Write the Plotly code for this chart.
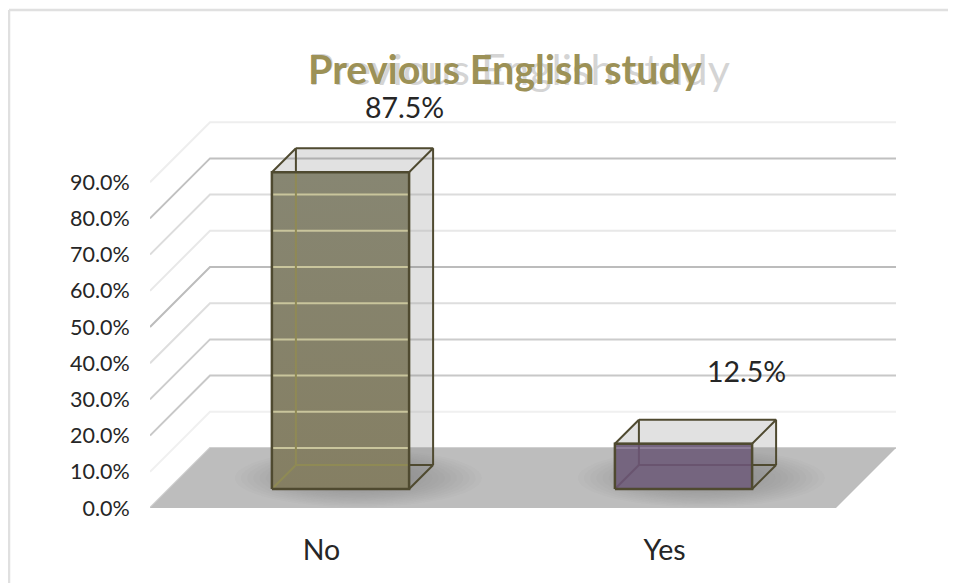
"""Previous English study: 3D-look column chart drawn on plain cartesian axes."""

import numpy as np
import plotly.graph_objects as go

categories = ["No", "Yes"]
values = [0.875, 0.125]
tick_values = [0.0, 0.1, 0.2, 0.3, 0.4, 0.5, 0.6, 0.7, 0.8, 0.9]
title_text = "Previous English study"

# pixel scale of the axes
PX_X = 343.0
PX_Y = 362.0
# the page body has an 8px margin, so the figure starts at (8, 8)
OFF = 8
LEFT, RIGHT, TOP, BOTTOM = 150 - OFF, 897 - OFF, 100 - OFF, 508 - OFF
W, H = 956, 583 - OFF

# oblique depth of the chart box and of the columns
DEPTH_X = 60 / PX_X
DEPTH_Y = 60 / PX_Y
BAR_FRONT = 19 / 60
BAR_BACK = 43 / 60
BAR_HALF = 0.2
N = len(categories)

FONT = "Lato"
TEXT = "#262626"
EDGE = "#4f4a30"
BAR_FILLS = [("#878672", "#857f63"), ("#75657f", "#75657f")]
BAR_INNER = ["#8f8a55", "#69546f"]
BAR_GRID = ["#c9c59c", "#8d7d97"]
SHADE = "rgba(120,120,120,0.22)"
GRID_COLORS = ["#d0d0d0", "#f0f0f0", "#c8c8c8", "#cccccc", "#dedede",
               "#bcbcbc", "#e8e8e8", "#dcdcdc", "#c0c0c0", "#eeeeee"]
LABEL_SHIFT = [(64, 65), (63, 73)]


def proj(x, v, d):
    return x + d * DEPTH_X, v + d * DEPTH_Y


def poly(points, fill=None, line=None, width=0, gradient=None):
    xs, ys = zip(*points)
    extra = {}
    if gradient:
        extra["fillgradient"] = dict(type="vertical", colorscale=[[0, gradient[1]], [1, gradient[0]]])
    return go.Scatter(
        x=list(xs), y=list(ys), mode="lines", showlegend=False, hoverinfo="skip",
        fill="toself" if (fill or gradient) else None, fillcolor=fill,
        line=dict(color=line or "rgba(0,0,0,0)", width=width), **extra,
    )


# page pixels to paper coordinates, for the frame and the title
def to_x(px):
    return (px - OFF - LEFT) / (RIGHT - LEFT)


def to_y(px):
    return (BOTTOM - (px - OFF)) / (BOTTOM - TOP)


fig = go.Figure()

# back and side wall grid lines
for v, color in zip(tick_values, GRID_COLORS):
    fig.add_trace(poly([proj(0, v, 0), proj(0, v, 1), proj(N, v, 1)], line=color, width=2))

# floor
fig.add_trace(poly([proj(0, 0, 0), proj(N, 0, 0), proj(N, 0, 1), proj(0, 0, 1), proj(0, 0, 0)],
                   fill="#bdbdbd"))

# soft shadows under the columns
angle = np.linspace(0, 2 * np.pi, 60)
for i in range(N):
    cx, cy = proj(i + 0.5, 0, 0.5)
    for scale in np.arange(1.0, 0.3, -0.05):
        fig.add_trace(poly(
            list(zip(cx + 0.02 + scale * 0.36 * np.cos(angle), cy + scale * 29 / PX_Y * np.sin(angle))),
            fill="rgba(110,110,110,0.035)",
        ))

# columns
for i, val in enumerate(values):
    left, right = i + 0.5 - BAR_HALF, i + 0.5 + BAR_HALF
    fl0, fr0 = proj(left, 0, BAR_FRONT), proj(right, 0, BAR_FRONT)
    fl1, fr1 = proj(left, val, BAR_FRONT), proj(right, val, BAR_FRONT)
    bl0, br0 = proj(left, 0, BAR_BACK), proj(right, 0, BAR_BACK)
    bl1, br1 = proj(left, val, BAR_BACK), proj(right, val, BAR_BACK)

    # see-through outline of the box behind the front face
    fig.add_trace(poly([fl1, bl1, br1, br0, fr0, fl0, fl1], fill=SHADE))
    fig.add_trace(poly([br0, fr0], line=EDGE, width=2))
    fig.add_trace(poly([br0, br1], line=EDGE, width=2))
    fig.add_trace(poly([bl0, br0], line=EDGE, width=2))
    fig.add_trace(poly([bl0, bl1], line=EDGE, width=2))
    fig.add_trace(poly([bl1, br1, fr1, fl1, bl1], line=EDGE, width=2))

    # front face, with the wall and box edges showing through
    fig.add_trace(poly([fl0, fr0, fr1, fl1, fl0], gradient=BAR_FILLS[i]))
    for v in tick_values:
        wall_y = v + DEPTH_Y
        if fl0[1] < wall_y < fl1[1]:
            fig.add_trace(poly([(fl0[0], wall_y), (fr0[0], wall_y)], line=BAR_GRID[i], width=2))
    fig.add_trace(poly([fl0, bl0], line=BAR_INNER[i], width=2))
    fig.add_trace(poly([(bl0[0], bl0[1]), (fr0[0], bl0[1])], line=BAR_INNER[i], width=2))
    fig.add_trace(poly([bl0, (bl1[0], fl1[1])], line=BAR_INNER[i], width=2))
    fig.add_trace(poly([fl0, fr0, fr1, fl1, fl0], line=EDGE, width=2.5))

    cx, cy = proj(i + 0.5, val, BAR_FRONT)
    fig.add_annotation(x=cx, y=cy, text=f"{val:.1%}", showarrow=False,
                       xshift=LABEL_SHIFT[i][0], yshift=LABEL_SHIFT[i][1],
                       font=dict(family=FONT, size=28.5, color=TEXT))

# grey echo behind the title
fig.add_annotation(x=to_x(306), y=to_y(68), xref="paper", yref="paper", yanchor="middle",
                   xanchor="left", text=title_text, showarrow=False,
                   font=dict(family=FONT, size=43, color="#d4d4d4"))
fig.add_annotation(x=to_x(306), y=to_y(68), xref="paper", yref="paper", yanchor="middle",
                   xanchor="left", text=f"<b>{title_text}</b>", showarrow=False,
                   font=dict(family=FONT, size=39.5, color="#9c9157"))

fig.update_layout(
    width=W, height=H, autosize=False,
    margin=dict(l=LEFT, r=W - RIGHT, t=TOP, b=H - BOTTOM, autoexpand=False),
    paper_bgcolor="white", plot_bgcolor="white",
    showlegend=False,
    xaxis=dict(range=[0, (RIGHT - LEFT) / PX_X], tickmode="array", tickvals=[i + 0.5 for i in range(N)],
               ticktext=categories, showgrid=False, zeroline=False, showline=False,
               ticks="outside", ticklen=17, tickcolor="rgba(0,0,0,0)",
               tickfont=dict(family=FONT, size=28.5, color=TEXT)),
    yaxis=dict(range=[0, (BOTTOM - TOP) / PX_Y], tickmode="array", tickvals=tick_values,
               tickformat=".1%", showgrid=False, zeroline=False, showline=False,
               ticks="outside", ticklen=15, tickcolor="rgba(0,0,0,0)",
               tickfont=dict(family=FONT, size=21.5, color=TEXT)),
    # chart frame: it runs off the page on the right and at the bottom
    shapes=[
        dict(type="line", xref="paper", yref="paper", x0=to_x(9), x1=to_x(964), y0=to_y(10), y1=to_y(10),
             line=dict(color="#e0e0e0", width=2.5)),
        dict(type="line", xref="paper", yref="paper", x0=to_x(9), x1=to_x(9), y0=to_y(10), y1=to_y(583),
             line=dict(color="#e0e0e0", width=2.5)),
    ],
)

fig.write_html("out.html")
